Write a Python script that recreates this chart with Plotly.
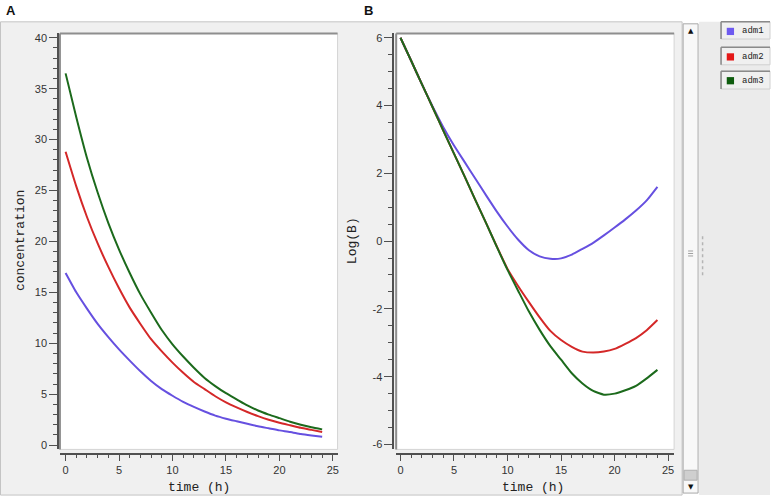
import plotly.graph_objects as go

W, H = 771, 504

# ---------------- data ----------------
time_h = list(range(25))
series_names = ["adm1", "adm2", "adm3"]

conc_adm1 = [16.9, 15.0, 13.4, 11.9, 10.6, 9.4, 8.3, 7.25, 6.3, 5.5, 4.85, 4.25, 3.75,
             3.3, 2.9, 2.6, 2.35, 2.1, 1.85, 1.65, 1.45, 1.3, 1.1, 0.95, 0.82]
conc_adm2 = [28.8, 25.4, 22.4, 19.8, 17.5, 15.4, 13.5, 11.9, 10.4, 9.2, 8.1, 7.1, 6.2,
             5.5, 4.8, 4.2, 3.7, 3.25, 2.85, 2.5, 2.2, 1.95, 1.7, 1.5, 1.3]
conc_adm3 = [36.5, 32.2, 28.2, 24.8, 21.8, 19.2, 16.9, 14.8, 13.0, 11.3, 9.9, 8.7, 7.6,
             6.6, 5.8, 5.1, 4.5, 3.9, 3.4, 3.0, 2.65, 2.3, 2.0, 1.75, 1.55]

logb_adm1 = [6.0, 5.32, 4.63, 3.97, 3.36, 2.82, 2.33, 1.84, 1.35, 0.87, 0.43, 0.04, -0.27,
             -0.45, -0.52, -0.51, -0.4, -0.23, -0.05, 0.17, 0.4, 0.64, 0.9, 1.2, 1.6]
logb_adm2 = [6.0, 5.32, 4.63, 3.95, 3.26, 2.58, 1.9, 1.21, 0.53, -0.16, -0.82, -1.33, -1.8,
             -2.25, -2.65, -2.92, -3.12, -3.26, -3.29, -3.26, -3.18, -3.03, -2.86, -2.63, -2.33]
logb_adm3 = [6.0, 5.32, 4.63, 3.95, 3.26, 2.58, 1.9, 1.21, 0.53, -0.17, -0.85, -1.47, -2.08,
             -2.62, -3.1, -3.5, -3.9, -4.2, -4.42, -4.53, -4.5, -4.4, -4.27, -4.05, -3.8]

conc_series = [conc_adm1, conc_adm2, conc_adm3]
logb_series = [logb_adm1, logb_adm2, logb_adm3]

x_tickvals = [0, 5, 10, 15, 20, 25]
x_ticktext = ["0", "5", "10", "15", "20", "25"]
yA_tickvals = [0, 5, 10, 15, 20, 25, 30, 35, 40]
yA_ticktext = ["0", "5", "10", "15", "20", "25", "30", "35", "40"]
yB_tickvals = [-6, -4, -2, 0, 2, 4, 6]
yB_ticktext = ["-6", "-4", "-2", "0", "2", "4", "6"]

panel_labels = ["A", "B"]
x_title = "time (h)"
yA_title = "concentration"
yB_title = "Log(B)"

# ---------------- style ----------------
line_colors = ["#6650e0", "#d42828", "#1c6a1c"]
legend_colors = ["#6e5af0", "#e41818", "#0e5c0e"]
axis_col = "#505050"
tick_font = dict(family="Liberation Sans, Arial, sans-serif", size=11, color="#333333")
mono_font = dict(family="Liberation Mono, DejaVu Sans Mono, monospace", size=13, color="#222222")


def px(x):
    return x / W


def py(y):
    return 1 - y / H


fig = go.Figure()

for i, name in enumerate(series_names):
    fig.add_trace(go.Scatter(x=time_h, y=conc_series[i], mode="lines", name=name,
                             line=dict(color=line_colors[i], width=2, shape="spline", smoothing=0.5),
                             xaxis="x", yaxis="y", showlegend=False))
for i, name in enumerate(series_names):
    fig.add_trace(go.Scatter(x=time_h, y=logb_series[i], mode="lines", name=name,
                             line=dict(color=line_colors[i], width=2, shape="spline", smoothing=0.5),
                             xaxis="x2", yaxis="y2", showlegend=False))

common_axis = dict(showline=True, linecolor=axis_col, linewidth=1.5, ticks="outside",
                   tickcolor=axis_col, tickwidth=1, showgrid=False, zeroline=False,
                   tickfont=tick_font, anchor="free", fixedrange=True)

plot_top, plot_bot = 31.7, 451
fig.update_layout(
    width=W, height=H,
    margin=dict(l=0, r=0, t=0, b=0),
    paper_bgcolor="white", plot_bgcolor="rgba(0,0,0,0)",
    showlegend=False,
    xaxis=dict(domain=[px(60), px(338)], range=[-0.53, 25.44],
               position=py(455), tickvals=x_tickvals, ticktext=x_ticktext, ticklen=6,
               minor=dict(dtick=1, tick0=0, ticklen=3, ticks="outside", tickcolor=axis_col),
               **common_axis),
    yaxis=dict(domain=[py(plot_bot), py(plot_top)], range=[-0.42, 40.42],
               position=px(57.3), tickvals=yA_tickvals, ticktext=yA_ticktext, ticklen=8,
               minor=dict(dtick=1, tick0=0, ticklen=4, ticks="outside", tickcolor=axis_col),
               **common_axis),
    xaxis2=dict(domain=[px(396.7), px(675)], range=[-0.40, 25.56],
                position=py(455), tickvals=x_tickvals, ticktext=x_ticktext, ticklen=6,
                minor=dict(dtick=1, tick0=0, ticklen=3, ticks="outside", tickcolor=axis_col),
                **common_axis),
    yaxis2=dict(domain=[py(plot_bot), py(plot_top)], range=[-6.146, 6.126],
                position=px(393), tickvals=yB_tickvals, ticktext=yB_ticktext, ticklen=8,
                minor=dict(dtick=0.5, tick0=0, ticklen=4, ticks="outside", tickcolor=axis_col),
                **common_axis),
)

shapes = []


def rect(x0, y0, x1, y1, fill, line="rgba(0,0,0,0)", lw=1):
    shapes.append(dict(type="rect", xref="paper", yref="paper", layer="below",
                       x0=px(x0), x1=px(x1), y0=py(y1), y1=py(y0),
                       fillcolor=fill, line=dict(color=line, width=lw)))


def seg(x0, y0, x1, y1, color, lw=1, dash="solid"):
    shapes.append(dict(type="line", xref="paper", yref="paper", layer="below",
                       x0=px(x0), x1=px(x1), y0=py(y0), y1=py(y1),
                       line=dict(color=color, width=lw, dash=dash)))


# window backgrounds
rect(0.5, 20, 683, 497, "#f0f0f0", "#c4c4c4", 1)
rect(700, 20, 771, 497, "#ebebeb")
# plot areas
for (x0, x1) in [(60, 338), (396.7, 675)]:
    rect(x0, plot_top, x1, plot_bot, "white", "#d4d4d4", 1)
    seg(x0, plot_top, x1, plot_top, "#8e8e8e", 2)
    seg(x0, plot_top, x0, plot_bot, "#8e8e8e", 2)
# scrollbar
rect(684, 22, 699, 495, "#f8f8f8", "#a8a8a8", 1)
rect(685, 472, 698, 482, "#cfcfcf", "#b0b0b0", 1)
for yy in (251, 253.5, 256):
    seg(689, yy, 694, yy, "#a0a0a0", 1)
seg(703.5, 236, 703.5, 276, "#b4b4b4", 1.5, "dot")
# legend boxes
legend_boxes = [(20, 37.3), (45.7, 63.3), (69.7, 87.7)]
for i, (y0, y1) in enumerate(legend_boxes):
    rect(722, y0, 771, y1, "#f0f0f0", "#d0d0d0", 1)
    seg(722, y0, 771, y0, "#8a8a8a", 1.5)
    seg(722, y0, 722, y1, "#8a8a8a", 1.5)
    rect(727.7, y0 + 6, 735, y0 + 13.3, legend_colors[i])

annotations = []


def text(x, y, s, font, xanchor="center", angle=0):
    annotations.append(dict(xref="paper", yref="paper", x=px(x), y=py(y), text=s,
                            showarrow=False, font=font, xanchor=xanchor, yanchor="middle",
                            textangle=angle))


label_font = dict(family="Liberation Sans, Arial, sans-serif", size=13, color="#111111")
text(11.5, 9, "<b>%s</b>" % panel_labels[0], label_font)
text(369, 9, "<b>%s</b>" % panel_labels[1], label_font)
text(199.5, 489, x_title, mono_font)
text(534, 489, x_title, mono_font)
text(20, 240, yA_title, mono_font, angle=-90)
text(352.5, 241, yB_title, mono_font, angle=-90)
for i, (y0, y1) in enumerate(legend_boxes):
    text(741, (y0 + y1) / 2 + 0.5, series_names[i],
         dict(family="Liberation Mono, DejaVu Sans Mono, monospace", size=9, color="#222222"),
         xanchor="left")
arrow_font = dict(family="DejaVu Sans, sans-serif", size=7, color="#111111")
text(691.5, 29, "▲", arrow_font)
text(691.5, 489, "▼", arrow_font)

fig.update_layout(shapes=shapes, annotations=annotations)
fig.write_html("out.html",
               config={"displayModeBar": False, "staticPlot": True},
               post_script="document.body.style.margin='0';document.body.style.padding='0';")
